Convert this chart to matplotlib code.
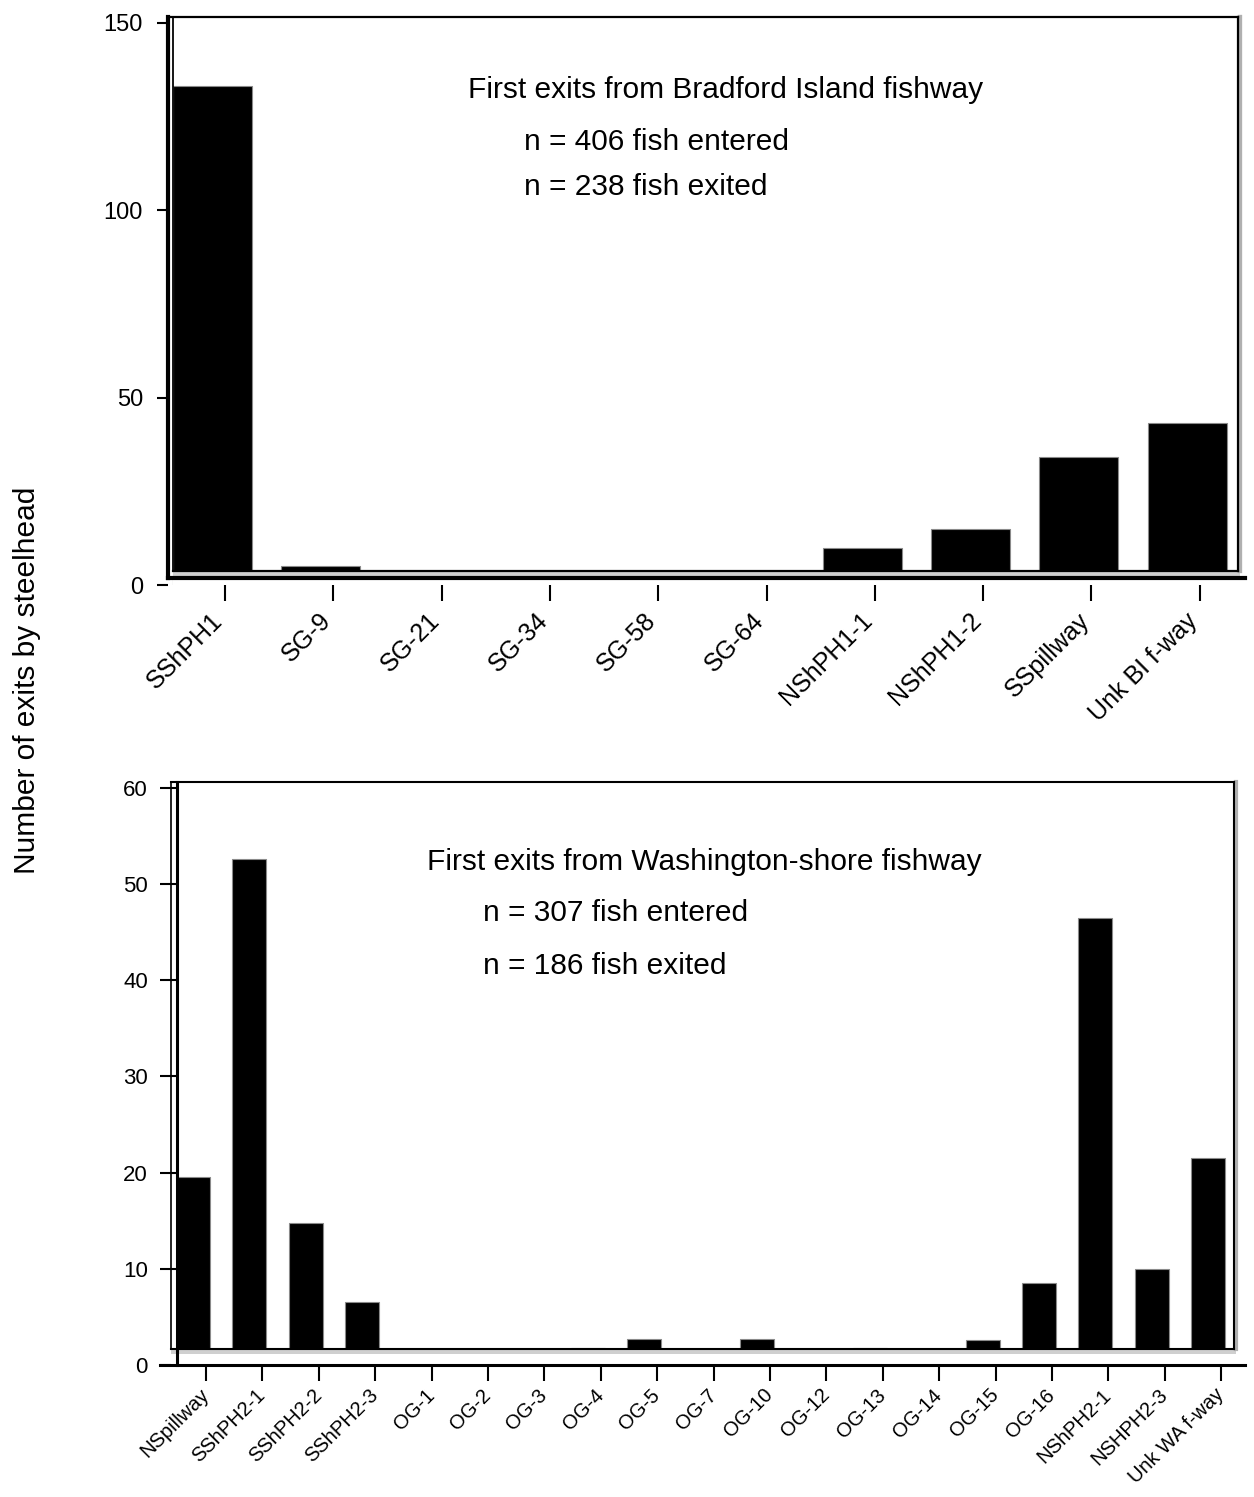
import matplotlib
matplotlib.use('Agg')
import matplotlib.pyplot as plt
from matplotlib.patches import Rectangle
from matplotlib.transforms import ScaledTranslation

plt.rcParams['font.family'] = ['Liberation Sans', 'DejaVu Sans']

W, H = 1254, 1497
fig = plt.figure(figsize=(12.54, 14.97), dpi=100)
PT = 72.0 / 100.0  # points per pixel

# ---------------- data ----------------
top_cats = ['SShPH1', 'SG-9', 'SG-21', 'SG-34', 'SG-58', 'SG-64',
            'NShPH1-1', 'NShPH1-2', 'SSpillway', 'Unk BI f-way']
top_vals = [133.2, 5.1, 0, 0, 0, 0, 9.9, 14.9, 34.2, 43.2]
top_yticks = [0, 50, 100, 150]

bot_cats = ['NSpillway', 'SShPH2-1', 'SShPH2-2', 'SShPH2-3', 'OG-1', 'OG-2',
            'OG-3', 'OG-4', 'OG-5', 'OG-7', 'OG-10', 'OG-12', 'OG-13', 'OG-14',
            'OG-15', 'OG-16', 'NShPH2-1', 'NSHPH2-3', 'Unk WA f-way']
bot_vals = [19.5, 52.6, 14.8, 6.6, 0, 0, 0, 1.8, 2.7, 0, 2.7, 0, 1.8, 0,
            2.6, 8.5, 46.5, 10.0, 21.5]
bot_yticks = [0, 10, 20, 30, 40, 50, 60]


def make_panel(cats, vals, yticks, left_px, right_px, top_px, zero_px,
               tick0_px, step_px, unit_px, bar_w_px, bar_shift_px,
               axis_y_px, axis_left_px, wall_left_px, frame_top_px,
               frame_right_px, floor_px, spine_lw, frame_lw, ytick_fs,
               xtick_fs, ytick_len, ytick_dir, ytick_pad, xlab_pad,
               xlab_dx=0, xlab_dy=0):
    ax = fig.add_axes([left_px / W, 1 - zero_px / H,
                       (right_px - left_px) / W, (zero_px - top_px) / H])
    px2x = lambda p: (p - tick0_px) / step_px
    px2y = lambda p: (zero_px - p) / unit_px
    ax.set_xlim(px2x(left_px), px2x(right_px))
    ax.set_ylim(0, px2y(top_px))

    xs = list(range(len(cats)))
    shift = bar_shift_px / step_px
    ax.bar([x - shift for x in xs], vals, width=bar_w_px / step_px,
           color='black', edgecolor='#8a8a8a', linewidth=0.8, zorder=2)

    # mask below the floor + grey floor band
    floor_y = px2y(floor_px)
    ax.add_patch(Rectangle((px2x(wall_left_px), 0),
                           px2x(frame_right_px + 3) - px2x(wall_left_px),
                           floor_y, facecolor='white', edgecolor='none',
                           zorder=3, clip_on=False))
    ax.add_patch(Rectangle((px2x(wall_left_px), px2y(floor_px + 5)),
                           px2x(frame_right_px + 2) - px2x(wall_left_px),
                           px2y(floor_px + 1) - px2y(floor_px + 5),
                           facecolor='#cfcfcf', edgecolor='none', zorder=3.2,
                           clip_on=False))
    # frame / wall
    lk = dict(color='black', clip_on=False, zorder=5, solid_capstyle='projecting')
    ax.plot([px2x(wall_left_px), px2x(frame_right_px)], [floor_y, floor_y],
            lw=frame_lw, **lk)
    ax.plot([px2x(wall_left_px)] * 2, [floor_y, px2y(frame_top_px)],
            lw=frame_lw * 0.8, **lk)
    ax.plot([px2x(min(left_px, wall_left_px)), px2x(frame_right_px)],
            [px2y(frame_top_px)] * 2, lw=frame_lw, **lk)
    ax.plot([px2x(frame_right_px + 2)] * 2, [floor_y, px2y(frame_top_px)],
            lw=frame_lw + 1.5, color='#b0b0b0', clip_on=False, zorder=4.5)
    ax.plot([px2x(frame_right_px)] * 2, [floor_y, px2y(frame_top_px)],
            lw=frame_lw, **lk)
    # horizontal axis line
    ax.plot([px2x(axis_left_px), px2x(right_px)], [px2y(axis_y_px)] * 2,
            lw=spine_lw, **lk)

    for s in ['top', 'right', 'bottom']:
        ax.spines[s].set_visible(False)
    ax.spines['left'].set_linewidth(spine_lw)
    ax.spines['left'].set_bounds(px2y(axis_y_px), px2y(frame_top_px))
    ax.spines['left'].set_zorder(6)

    ax.tick_params(axis='y', direction=ytick_dir, length=ytick_len * PT,
                   width=1.5, pad=ytick_pad * PT, labelsize=ytick_fs)
    ax.tick_params(axis='x', direction='out', length=16 * PT, width=1.5,
                   pad=xlab_pad * PT, labelsize=xtick_fs)
    ax.set_yticks(yticks)
    ax.set_yticklabels([str(v) for v in yticks], fontsize=ytick_fs)
    ax.set_xticks(xs)
    ax.set_xticklabels(cats, fontsize=xtick_fs, rotation=45, ha='right',
                       va='center', rotation_mode='anchor')
    if xlab_dx or xlab_dy:
        off = ScaledTranslation(xlab_dx / 100, xlab_dy / 100,
                                fig.dpi_scale_trans)
        for lbl in ax.get_xticklabels():
            lbl.set_transform(lbl.get_transform() + off)
    return ax


# top panel
make_panel(top_cats, top_vals, top_yticks,
           left_px=168, right_px=1245, top_px=17, zero_px=585,
           tick0_px=225, step_px=108.3, unit_px=3.747,
           bar_w_px=79, bar_shift_px=12.5,
           axis_y_px=578, axis_left_px=168, wall_left_px=173,
           frame_top_px=17, frame_right_px=1238, floor_px=571,
           spine_lw=3.0, frame_lw=1.6, ytick_fs=17, xtick_fs=18,
           ytick_len=11, ytick_dir='out', ytick_pad=14, xlab_pad=12,
           xlab_dx=-6, xlab_dy=-4)

# bottom panel
make_panel(bot_cats, bot_vals, bot_yticks,
           left_px=177, right_px=1245, top_px=782, zero_px=1365,
           tick0_px=206, step_px=56.4, unit_px=9.617,
           bar_w_px=34, bar_shift_px=13,
           axis_y_px=1365, axis_left_px=160, wall_left_px=171,
           frame_top_px=782, frame_right_px=1234, floor_px=1349,
           spine_lw=2.2, frame_lw=1.5, ytick_fs=16, xtick_fs=14.5,
           ytick_len=17, ytick_dir='out', ytick_pad=12, xlab_pad=11)

# texts
def ftext(x, y, s, **kw):
    fig.text(x / W, 1 - y / H, s, **kw)

ftext(726, 90, 'First exits from Bradford Island fishway', fontsize=21.5,
      ha='center', va='center')
ftext(524, 142, 'n = 406 fish entered', fontsize=21.5, ha='left', va='center')
ftext(524, 187, 'n = 238 fish exited', fontsize=21.5, ha='left', va='center')

ftext(704, 862, 'First exits from Washington-shore fishway', fontsize=21.5,
      ha='center', va='center')
ftext(483, 913, 'n = 307 fish entered', fontsize=21.5, ha='left', va='center')
ftext(483, 966, 'n = 186 fish exited', fontsize=21.5, ha='left', va='center')

ftext(27, 680, 'Number of exits by steelhead', fontsize=21.5, rotation=90,
      ha='center', va='center')

fig.savefig('out.png', dpi=100, facecolor='white')
